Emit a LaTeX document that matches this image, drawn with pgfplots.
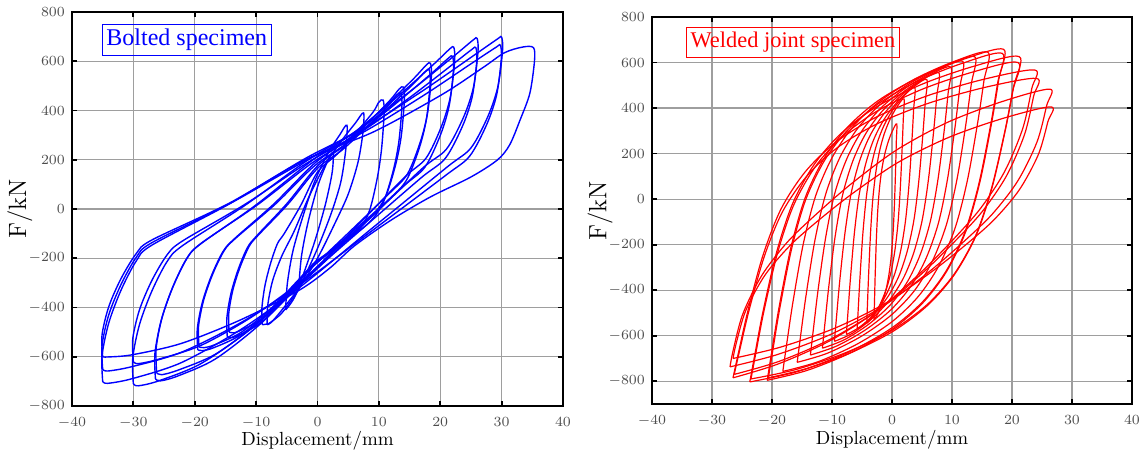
\documentclass[border=0pt]{standalone}
\usepackage{fontspec}
\newfontfamily\boxfont{Liberation Serif}
\usepackage{pgfplots}
\pgfplotsset{compat=1.18}
\pgfplotsset{
  hyst/.style={
    scale only axis,
    xmin=-40, xmax=40,
    xtick={-40,-30,...,40},
    ytick={-800,-600,...,800},
    grid=major,
    grid style={black!38, line width=0.6pt},
    axis line style={black, line width=0.9pt},
    tick style={black, line width=0.9pt},
    major tick length=2.5pt,
    tick align=inside,
    ticklabel style={font=\fontsize{7}{8}\selectfont, text=black!70},
    xticklabel style={yshift=-2pt},
    xlabel style={font=\fontsize{9.5}{11}\selectfont},
    ylabel style={font=\fontsize{12.5}{14}\selectfont},
    xlabel={Displacement/mm},
    ylabel={F/kN},
  },
  bl/.style={blue, line width=0.7pt, smooth, tension=0.5},
  rd/.style={red, line width=0.6pt, smooth, tension=0.5},
}
\begin{document}
\begin{tikzpicture}
\path[use as bounding box] (0,0) rectangle (570pt,-229.5pt);

% bolted specimen
\begin{axis}[hyst, at={(36pt,-203pt)}, anchor=south west,
  width=245.5pt, height=197pt, ymin=-800, ymax=800,
  xlabel style={at={(axis description cs:0.5,-0.088)}, anchor=center},
  ylabel style={at={(axis description cs:-0.106,0.5)}, anchor=center}]
\addplot[bl] coordinates {(-3,-300) (-2.6,-190) (-1.6,-60) (0,90) (1.4,180) (2.5,230) (2.4,150) (1.3,20) (-0.3,-120) (-1.8,-230) (-2.6,-285) (-3,-300)};
\addplot[bl] coordinates {(-5.2,-410) (-4.9,-300) (-4,-170) (-2.5,-40) (-0.5,110) (1.8,230) (3.6,300) (4.8,340) (4.6,240) (3.8,110) (2.2,-20) (0,-160) (-2.2,-280) (-4,-370) (-5.2,-410)};
\addplot[bl] coordinates {(-8.2,-470) (-8.1,-390) (-7.3,-290) (-5.8,-190) (-3.8,-90) (-1.2,60) (1.5,190) (4,280) (6.2,350) (7.5,390) (7.4,310) (6.6,190) (5,60) (2.8,-60) (0,-200) (-3,-320) (-5.8,-410) (-7.5,-460) (-8.2,-470)};
\addplot[bl] coordinates {(-9.0,-470) (-9.05,-400) (-8.55,-310) (-7.65,-221) (-6.53,-141) (-5.4,-99) (-2.7,16) (0,150) (3.21,223) (6.42,314) (9.1,395) (10.0,434) (10.7,442) (10.85,387) (10.43,242) (9.71,122) (8.45,-8) (6.65,-88) (2.83,-159) (-1,-230) (-3.4,-338) (-5.8,-422) (-7.8,-463) (-8.2,-467) (-9,-470)};
\addplot[bl] coordinates {(-14.7,-519) (-14.76,-441) (-14.1,-343) (-12.9,-244) (-11.4,-156) (-9.9,-109) (-4.95,23) (0,175) (4.2,255) (8.4,354) (11.9,444) (13.3,487) (14,495) (14.15,440) (13.64,295) (12.68,175) (11,45) (8.6,-35) (3.55,-143) (-1.5,-250) (-5.46,-371) (-9.42,-465) (-12.72,-511) (-13.9,-522) (-14.7,-519)};
\addplot[bl] coordinates {(-14.4,-500) (-14.46,-425) (-13.8,-330) (-12.6,-235) (-11.1,-150) (-9.6,-105) (-4.8,20) (0,165) (4.08,241) (8.16,336) (11.56,421) (12.9,462) (13.6,470) (13.75,415) (13.24,270) (12.28,150) (10.6,20) (8.2,-60) (3.35,-153) (-1.5,-245) (-5.37,-360) (-9.24,-449) (-12.47,-492) (-13.6,-503) (-14.4,-500)};
\addplot[bl] coordinates {(-19.5,-572) (-19.58,-486) (-18.75,-378) (-17.25,-269) (-15.38,-172) (-13.5,-120) (-7,23) (-0.5,185) (5.17,287) (10.84,413) (15.57,527) (17.7,584) (18.4,592) (18.55,537) (17.95,392) (16.75,272) (14.65,142) (11.65,62) (4.83,-102) (-2,-265) (-7.25,-403) (-12.5,-511) (-16.88,-563) (-18.7,-575) (-19.5,-572)};
\addplot[bl] coordinates {(-19.3,-560) (-19.38,-476) (-18.55,-370) (-17.05,-263) (-15.18,-168) (-13.3,-118) (-6.9,19) (-0.5,175) (5.11,273) (10.72,393) (15.4,503) (17.5,557) (18.2,565) (18.35,510) (17.75,365) (16.55,245) (14.45,115) (11.45,35) (4.73,-113) (-2,-260) (-7.19,-395) (-12.38,-500) (-16.71,-551) (-18.5,-563) (-19.3,-560)};
\addplot[bl] coordinates {(-26.4,-690) (-26.49,-587) (-25.5,-455) (-23.7,-324) (-21.45,-207) (-19.2,-145) (-10.1,15) (-1,195) (5.96,311) (12.92,454) (18.72,583) (21.5,649) (22.2,657) (22.35,602) (21.66,457) (20.22,337) (17.7,207) (14.1,127) (6.05,-79) (-2,-285) (-9.32,-467) (-16.64,-609) (-22.74,-678) (-25.6,-698) (-26.4,-690)};
\addplot[bl] coordinates {(-26.2,-665) (-26.29,-565) (-25.3,-439) (-23.5,-313) (-21.25,-200) (-19,-140) (-10,13) (-1,185) (5.9,294) (12.8,429) (18.55,550) (21.3,612) (22,620) (22.15,565) (21.46,420) (20.02,300) (17.5,170) (13.9,90) (5.95,-95) (-2,-280) (-9.26,-453) (-16.52,-588) (-22.57,-653) (-25.4,-673) (-26.2,-665)};
\addplot[bl] coordinates {(-30,-710) (-30.1,-604) (-29,-469) (-27,-334) (-24.5,-213) (-22,-149) (-11.75,16) (-1.5,200) (6.75,323) (15,476) (21.88,614) (25.3,685) (26,693) (26.15,638) (25.4,493) (23.8,373) (21,243) (17,163) (7.25,-69) (-2.5,-300) (-10.75,-485) (-19,-628) (-25.88,-698) (-29.2,-718) (-30,-710)};
\addplot[bl] coordinates {(-30,-620) (-30.1,-527) (-29,-409) (-27,-291) (-24.5,-186) (-22,-130) (-11.75,20) (-1.5,190) (6.69,306) (14.88,450) (21.7,581) (25.1,647) (25.8,655) (25.95,600) (25.2,455) (23.6,335) (20.8,205) (16.8,125) (7.15,-83) (-2.5,-290) (-10.75,-439) (-19,-554) (-25.88,-610) (-29.2,-628) (-30,-620)};
\addplot[bl] coordinates {(-35,-700) (-35.1,-595) (-34,-462) (-32,-329) (-29.5,-210) (-27,-147) (-14.5,19) (-2,205) (7.6,328) (17.2,481) (25.2,619) (29.3,690) (30,698) (30.15,643) (29.4,498) (27.8,378) (25,248) (21,168) (9,-76) (-3,-320) (-12.6,-491) (-22.2,-624) (-30.2,-689) (-34.2,-708) (-35,-700)};
\addplot[bl] coordinates {(-35,-650) (-35.1,-553) (-34,-429) (-32,-306) (-29.5,-195) (-27,-137) (-14.5,19) (-2,195) (7.54,313) (17.08,458) (25.03,590) (29.1,657) (29.8,665) (29.95,610) (29.2,465) (27.6,345) (24.8,215) (20.8,135) (8.9,-88) (-3,-310) (-12.6,-463) (-22.2,-582) (-30.2,-640) (-34.2,-658) (-35,-650)};
\addplot[bl] coordinates {(-35,-600) (-35.1,-510) (-34,-396) (-32,-282) (-29.5,-180) (-27,-126) (-14.5,22) (-2,200) (9.2,314) (20.3,465) (27,575) (30.5,635) (33.5,658) (35.2,655) (35.35,600) (34.6,470) (33,361) (31.3,260) (29.3,199) (25,130) (18.4,49) (12,-45) (6,-150) (2,-240) (-3,-330) (-12.6,-451) (-22.2,-546) (-30.2,-592) (-34.2,-601) (-35,-600)};
\node[draw=blue, text=blue, line width=0.5pt, inner xsep=2pt, inner ysep=2.5pt,
  font=\boxfont\fontsize{12}{14}\selectfont] at (axis cs:-21.3,686) {Bolted specimen};
\end{axis}

% welded joint specimen
\begin{axis}[hyst, at={(326pt,-202pt)}, anchor=south west,
  width=240pt, height=193.5pt, ymin=-900, ymax=800,
  xlabel style={at={(axis description cs:0.5,-0.093)}, anchor=center},
  ylabel style={at={(axis description cs:-0.108,0.5)}, anchor=center}]
\addplot[rd] coordinates {(-3.0,-530) (-2.92,-453) (-2.81,-341) (-2.62,-186) (-2.39,-57) (-2.09,46) (-1.71,128) (-1.21,197) (-0.57,257) (0.15,304) (0.8,330) (0.72,253) (0.61,141) (0.42,-14) (0.19,-143) (-0.11,-246) (-0.49,-328) (-0.99,-397) (-1.63,-457) (-2.35,-504) (-3.0,-530)};
\addplot[rd] coordinates {(-4.2,-545) (-4.08,-456) (-3.89,-328) (-3.58,-151) (-3.21,-3) (-2.71,115) (-2.09,209) (-1.29,287) (-0.23,356) (0.95,410) (2.0,440) (1.88,351) (1.69,223) (1.38,46) (1.01,-102) (0.51,-220) (-0.11,-314) (-0.91,-392) (-1.97,-461) (-3.15,-515) (-4.2,-545)};
\addplot[rd] coordinates {(-5.8,-570) (-5.61,-475) (-5.32,-337) (-4.84,-146) (-4.26,13) (-3.50,140) (-2.54,241) (-1.29,326) (0.34,400) (2.17,458) (3.8,490) (3.61,395) (3.32,257) (2.84,66) (2.26,-93) (1.50,-220) (0.54,-321) (-0.71,-406) (-2.34,-480) (-4.17,-538) (-5.8,-570)};
\addplot[rd] coordinates {(-7.6,-595) (-7.33,-494) (-6.93,-349) (-6.26,-147) (-5.46,21) (-4.38,155) (-3.04,262) (-1.30,351) (0.98,430) (3.52,491) (5.8,525) (5.53,424) (5.13,279) (4.46,77) (3.66,-91) (2.58,-225) (1.24,-332) (-0.50,-421) (-2.78,-500) (-5.32,-561) (-7.6,-595)};
\addplot[rd] coordinates {(-9.6,-625) (-9.25,-519) (-8.73,-365) (-7.86,-153) (-6.82,24) (-5.42,166) (-3.68,278) (-1.42,372) (1.54,455) (4.84,520) (7.8,555) (7.45,449) (6.93,295) (6.06,83) (5.02,-94) (3.62,-236) (1.88,-348) (-0.38,-442) (-3.34,-525) (-6.64,-590) (-9.6,-625)};
\addplot[rd] coordinates {(-11.6,-655) (-11.17,-544) (-10.53,-383) (-9.46,-161) (-8.18,24) (-6.46,172) (-4.32,290) (-1.54,389) (2.10,475) (6.16,543) (9.8,580) (9.37,469) (8.73,308) (7.66,86) (6.38,-99) (4.66,-247) (2.52,-365) (-0.26,-464) (-3.90,-550) (-7.96,-618) (-11.6,-655)};
\addplot[rd] coordinates {(-13.6,-685) (-13.09,-569) (-12.33,-401) (-11.06,-169) (-9.54,25) (-7.50,179) (-4.96,302) (-1.66,405) (2.66,495) (7.48,566) (11.8,605) (11.29,489) (10.53,321) (9.26,89) (7.74,-105) (5.70,-259) (3.16,-382) (-0.14,-485) (-4.46,-575) (-9.28,-646) (-13.6,-685)};
\addplot[rd] coordinates {(-15.8,-717) (-15.21,-596) (-14.32,-422) (-12.84,-180) (-11.06,21) (-8.70,182) (-5.74,310) (-1.89,417) (3.14,511) (8.77,585) (13.8,625) (13.21,504) (12.32,330) (10.84,88) (9.06,-113) (6.70,-274) (3.74,-402) (-0.11,-509) (-5.14,-603) (-10.77,-677) (-15.8,-717)};
\addplot[rd] coordinates {(-18.2,-757) (-17.52,-631) (-16.49,-449) (-14.78,-196) (-12.73,14) (-9.99,182) (-6.57,316) (-2.13,428) (3.69,526) (10.19,603) (16.0,645) (15.32,519) (14.29,337) (12.58,84) (10.53,-126) (7.79,-294) (4.37,-428) (-0.07,-540) (-5.89,-638) (-12.39,-715) (-18.2,-757)};
\addplot[rd] coordinates {(-20.8,-796) (-20.01,-665) (-18.83,-476) (-16.86,-214) (-14.50,4) (-11.34,178) (-7.40,316) (-2.28,433) (4.42,534) (11.90,614) (18.6,658) (17.81,527) (16.63,338) (14.66,76) (12.30,-142) (9.14,-316) (5.20,-454) (0.08,-571) (-6.62,-672) (-14.10,-752) (-20.8,-796)};
\addplot[rd] coordinates {(-20.6,-785) (-19.82,-657) (-18.65,-472) (-16.70,-215) (-14.36,-1) (-11.24,170) (-7.34,305) (-2.27,419) (4.36,519) (11.77,597) (18.4,640) (17.62,512) (16.45,327) (14.50,70) (12.16,-144) (9.04,-315) (5.14,-450) (0.07,-564) (-6.56,-664) (-13.97,-742) (-20.6,-785)};
\addplot[rd] coordinates {(-23.7,-803) (-22.80,-674) (-21.46,-489) (-19.21,-231) (-16.52,-17) (-12.92,154) (-8.43,290) (-2.60,405) (5.04,505) (13.57,583) (21.2,626) (20.30,497) (18.96,312) (16.71,54) (14.02,-160) (10.42,-331) (5.93,-467) (0.10,-582) (-7.54,-682) (-16.07,-760) (-23.7,-803)};
\addplot[rd] coordinates {(-23.5,-790) (-22.61,-665) (-21.28,-484) (-19.05,-234) (-16.38,-26) (-12.82,141) (-8.37,273) (-2.59,385) (4.98,482) (13.44,558) (21.0,600) (20.11,475) (18.78,294) (16.55,44) (13.88,-164) (10.32,-331) (5.87,-463) (0.09,-575) (-7.48,-672) (-15.94,-748) (-23.5,-790)};
\addplot[rd] coordinates {(-26.5,-785) (-25.49,-663) (-23.99,-488) (-21.47,-244) (-18.45,-41) (-14.43,121) (-9.40,249) (-2.86,357) (5.69,452) (15.25,526) (23.8,567) (23.30,486) (21.79,310) (18.77,121) (14.75,-41) (10.22,-177) (4.69,-325) (-2.36,-488) (-10.40,-623) (-18.96,-724) (-26.5,-785)};
\addplot[rd] coordinates {(-26.3,-770) (-25.29,-653) (-23.78,-484) (-21.26,-250) (-18.24,-55) (-14.20,101) (-9.16,225) (-2.61,329) (5.96,420) (15.53,491) (24.1,530) (23.60,452) (22.08,283) (19.06,101) (15.03,-55) (10.49,-185) (4.95,-328) (-2.11,-484) (-10.17,-614) (-18.74,-712) (-26.3,-770)};
\addplot[rd] coordinates {(-27.0,-737) (-26.47,-664) (-24.87,-505) (-21.67,-334) (-17.41,-188) (-12.61,-66) (-6.75,68) (0.72,215) (9.24,337) (18.31,428) (26.3,483) (25.77,410) (24.17,251) (20.97,80) (16.71,-66) (11.91,-188) (6.05,-322) (-1.42,-469) (-9.94,-591) (-19.01,-682) (-27.0,-737)};
\addplot[rd] coordinates {(-26.5,-700) (-25.97,-634) (-24.38,-490) (-21.2,-335) (-16.96,-203) (-12.19,-92) (-6.36,29) (1.06,162) (9.54,272) (18.55,355) (26.5,405) (25.97,339) (24.38,195) (21.2,40) (16.96,-92) (12.19,-203) (6.36,-324) (-1.06,-457) (-9.54,-567) (-18.55,-650) (-26.5,-700)};
\node[draw=red, text=red, line width=0.5pt, inner xsep=2pt, inner ysep=2.5pt,
  font=\boxfont\fontsize{11.2}{13}\selectfont] at (axis cs:-16.5,688) {Welded joint specimen};
\end{axis}
\end{tikzpicture}
\end{document}
